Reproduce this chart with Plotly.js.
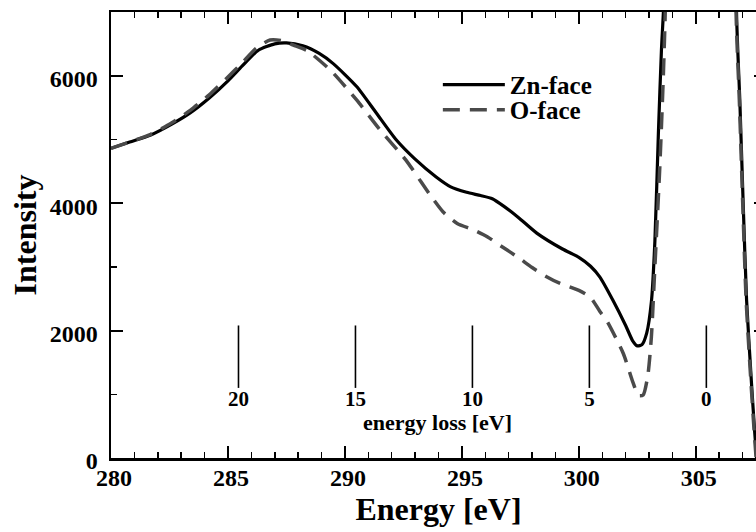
<!DOCTYPE html>
<html>
<head>
<meta charset="utf-8">
<script src="https://cdn.plot.ly/plotly-3.0.1.min.js"></script>
<style>
html,body{margin:0;padding:0;overflow:hidden;background:#fff;}
#chart{width:770px;height:532px;}
</style>
</head>
<body>
<div id="chart"></div>
<script>
// Zn-face (solid) spectrum
const znEnergy = [280.0,280.8,281.7,282.6,283.4,284.2,285.0,285.6,286.3,287.0,287.5,288.2,288.9,289.5,290.5,291.35,292.2,293.0,293.9,294.5,295.2,295.8,296.3,296.8,297.4,298.2,299.3,300.0,300.5,300.9,301.45,302.0,302.3,302.5,302.7,302.9,303.1,303.25,303.4,303.53,303.65,304.2,305.45,306.6,306.74,306.88,307.02,307.17,307.38,307.52,307.7];
const znIntensity = [4860,4960,5070,5240,5420,5650,5920,6150,6400,6500,6515,6470,6350,6190,5830,5410,4990,4690,4410,4260,4170,4120,4070,3950,3780,3530,3280,3150,3010,2840,2480,2080,1840,1760,1780,1960,2450,3400,5100,6400,7300,20000,40000,20000,7000,5620,4050,2480,1170,390,-500];
// O-face (dashed) spectrum
const oEnergy = [280.0,280.8,281.7,282.6,283.4,284.2,285.0,285.6,286.2,286.8,287.3,287.8,288.4,289.4,290.5,291.5,292.6,293.6,294.2,294.8,295.5,296.1,296.7,297.4,298.0,298.6,299.2,300.0,300.5,300.9,301.2,301.9,302.3,302.55,302.75,302.95,303.1,303.25,303.46,303.6,303.7,304.3,305.45,306.6,306.72,306.86,307.0,307.15,307.36,307.5,307.68];
const oIntensity = [4860,4960,5080,5260,5460,5700,5980,6200,6430,6560,6550,6480,6390,6080,5620,5150,4680,4150,3860,3680,3580,3470,3320,3150,2990,2850,2740,2630,2520,2300,2150,1640,1200,980,990,1300,1900,3000,4570,5880,7100,20000,40000,20000,7000,5620,4050,2480,1170,390,-500];
// energy-loss scale
const zeroLossEnergy = 305.45;
const lossValues = [20,15,10,5,0];
const lossMarkLow = 1100, lossMarkHigh = 2080, lossLabelY = 900;
const lossTitle = 'energy loss [eV]';
const lossTitlePos = [293.97, 555];
const seriesNames = ['Zn-face','O-face'];

const serif = 'Liberation Serif, Times New Roman, serif';

const markX = [], markY = [];
lossValues.forEach(l => { const e = zeroLossEnergy - l; markX.push(e, e, null); markY.push(lossMarkLow, lossMarkHigh, null); });

const traces = [
  {x: znEnergy, y: znIntensity, mode: 'lines', name: seriesNames[0], legend: 'legend',
   line: {color: '#000', width: 3.2, shape: 'spline', smoothing: 0.6}},
  {x: oEnergy, y: oIntensity, mode: 'lines', name: seriesNames[1], legend: 'legend2',
   line: {color: '#4a4a4a', width: 3.5, dash: '17px,10px', shape: 'spline', smoothing: 0.6}},
  {x: markX, y: markY, mode: 'lines', showlegend: false, hoverinfo: 'skip',
   line: {color: '#000', width: 1.6}},
  {x: lossValues.map(l => zeroLossEnergy - l), y: lossValues.map(() => lossLabelY),
   mode: 'text', text: lossValues.map(String), showlegend: false, hoverinfo: 'skip',
   textfont: {family: serif, size: 21, color: '#000', weight: 'bold'}}
];

const axisCommon = {
  showline: true, linecolor: '#000', linewidth: 2.5, mirror: 'allticks',
  ticks: 'inside', ticklen: 12, tickwidth: 2, tickcolor: '#000',
  showgrid: false, zeroline: false,
  tickfont: {family: serif, size: 24, color: '#000', weight: 'bold'}
};

const legendCommon = {xanchor: 'left', yanchor: 'top', bgcolor: 'rgba(0,0,0,0)',
  font: {family: serif, size: 25, color: '#000', weight: 'bold'}, itemwidth: 62};

const layout = {
  width: 770, height: 532,
  margin: {l: 111, r: 4, t: 12, b: 74},
  paper_bgcolor: '#fff', plot_bgcolor: '#fff',
  showlegend: true,
  legend: Object.assign({}, legendCommon, {x: 0.499, y: 0.888}),
  legend2: Object.assign({}, legendCommon, {x: 0.499, y: 0.832}),
  xaxis: Object.assign({}, axisCommon, {
    range: [280, 308], tickvals: [280,285,290,295,300,305], ticklabelstandoff: -3, ticklabelshift: 3,
    minor: {dtick: 1, ticklen: 6, tickwidth: 1.5, tickcolor: '#000', ticks: 'inside'},
    title: {text: 'Energy [eV]', font: {family: serif, size: 32, color: '#000', weight: 'bold'}, standoff: 8}
  }),
  yaxis: Object.assign({}, axisCommon, {
    range: [0, 7000], tickvals: [0,2000,4000,6000], ticklabelshift: 3, ticklabelstandoff: 6,
    minor: {dtick: 1000, ticklen: 6, tickwidth: 1.5, tickcolor: '#000', ticks: 'inside'},
    title: {text: 'Intensity', font: {family: serif, size: 32, color: '#000', weight: 'bold'}, standoff: 4}
  }),
  annotations: [{x: lossTitlePos[0], y: lossTitlePos[1], xref: 'x', yref: 'y', text: lossTitle,
    showarrow: false, font: {family: serif, size: 22, color: '#000', weight: 'bold'}}]
};

Plotly.newPlot('chart', traces, layout, {displayModeBar: false, staticPlot: true});
</script>
</body>
</html>
